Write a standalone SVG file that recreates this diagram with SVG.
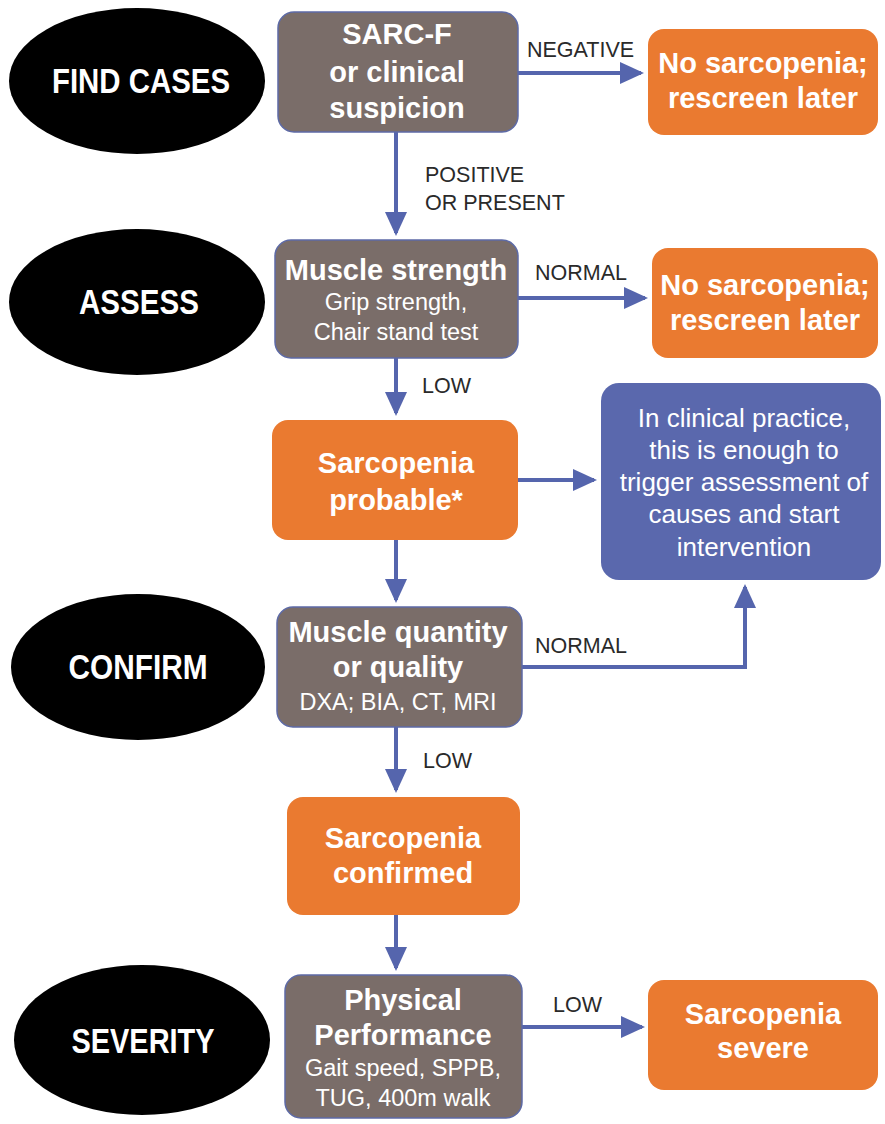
<svg xmlns="http://www.w3.org/2000/svg" width="885" height="1124" viewBox="0 0 885 1124">
<style>
.ell{fill:#000}
.gray{fill:#7a6d69;stroke:#5d6aa6;stroke-width:1.5}
.orange{fill:#ea7a30}
.blue{fill:#5a68ad}
.et{font-family:"Liberation Sans",Arial,sans-serif;font-weight:bold;font-size:35px;fill:#fff;text-anchor:middle}
.bt{font-family:"Liberation Sans",Arial,sans-serif;font-weight:bold;font-size:29px;fill:#fff;text-anchor:middle}
.st{font-family:"Liberation Sans",Arial,sans-serif;font-size:23.5px;fill:#fff;text-anchor:middle}
.ct{font-family:"Liberation Sans",Arial,sans-serif;font-size:26px;fill:#fff;text-anchor:middle}
.lbl{font-family:"Liberation Sans",Arial,sans-serif;font-size:21.5px;fill:#2a2a2a}
.conn{fill:none;stroke:#5565ad;stroke-width:4}
</style>
<defs>
<marker id="ah" viewBox="0 0 12 11" refX="10.5" refY="5.5" markerWidth="6" markerHeight="5.5" orient="auto" markerUnits="strokeWidth">
<path d="M0,0 L12,5.5 L0,11 z" fill="#5565ad"/>
</marker>
</defs>
<rect width="885" height="1124" fill="#fff"/>

<g id="connectors">
<path class="conn" d="M518,73 H641" marker-end="url(#ah)"/>
<path class="conn" d="M396,132 V233" marker-end="url(#ah)"/>
<path class="conn" d="M518,298 H645" marker-end="url(#ah)"/>
<path class="conn" d="M396,358 V413" marker-end="url(#ah)"/>
<path class="conn" d="M518,480 H594" marker-end="url(#ah)"/>
<path class="conn" d="M396,540 V600" marker-end="url(#ah)"/>
<path class="conn" d="M522,667 H745 V587" marker-end="url(#ah)"/>
<path class="conn" d="M396,727 V790" marker-end="url(#ah)"/>
<path class="conn" d="M396,915 V968" marker-end="url(#ah)"/>
<path class="conn" d="M522,1027 H642" marker-end="url(#ah)"/>
<text class="lbl" x="527" y="57">NEGATIVE</text>
<text class="lbl" x="425" y="182">POSITIVE</text>
<text class="lbl" x="425" y="210">OR PRESENT</text>
<text class="lbl" x="535" y="280">NORMAL</text>
<text class="lbl" x="422" y="393">LOW</text>
<text class="lbl" x="535" y="653">NORMAL</text>
<text class="lbl" x="423" y="768">LOW</text>
<text class="lbl" x="553" y="1012">LOW</text>
</g>

<g id="find-cases"><ellipse class="ell" cx="137" cy="81" rx="128" ry="73"/><text class="et" x="141" y="93" textLength="178" lengthAdjust="spacingAndGlyphs">FIND CASES</text></g>
<g id="assess"><ellipse class="ell" cx="137" cy="302" rx="128" ry="73"/><text class="et" x="139" y="314" textLength="120" lengthAdjust="spacingAndGlyphs">ASSESS</text></g>
<g id="confirm"><ellipse class="ell" cx="138" cy="667" rx="127" ry="73"/><text class="et" x="138" y="679" textLength="139" lengthAdjust="spacingAndGlyphs">CONFIRM</text></g>
<g id="severity"><ellipse class="ell" cx="142" cy="1040" rx="128" ry="75"/><text class="et" x="143" y="1053" textLength="143" lengthAdjust="spacingAndGlyphs">SEVERITY</text></g>

<g id="sarcf"><rect class="gray" x="278" y="12" width="240" height="120" rx="16"/>
<text class="bt" x="397" y="44">SARC-F</text>
<text class="bt" x="397" y="82">or clinical</text>
<text class="bt" x="397" y="118">suspicion</text></g>

<g id="nosarc1"><rect class="orange" x="648" y="29" width="230" height="106" rx="16"/>
<text class="bt" x="763" y="73">No sarcopenia;</text>
<text class="bt" x="763" y="108">rescreen later</text></g>

<g id="strength"><rect class="gray" x="275" y="240" width="243" height="118" rx="16"/>
<text class="bt" x="396" y="280">Muscle strength</text>
<text class="st" x="396" y="310">Grip strength,</text>
<text class="st" x="396" y="340">Chair stand test</text></g>

<g id="nosarc2"><rect class="orange" x="652" y="248" width="226" height="110" rx="16"/>
<text class="bt" x="765" y="295">No sarcopenia;</text>
<text class="bt" x="765" y="330">rescreen later</text></g>

<g id="probable"><rect class="orange" x="272" y="420" width="246" height="120" rx="16"/>
<text class="bt" x="396" y="473">Sarcopenia</text>
<text class="bt" x="396" y="510">probable*</text></g>

<g id="clinical"><rect class="blue" x="601" y="383" width="280" height="197" rx="18"/>
<text class="ct" x="744" y="427">In clinical practice,</text>
<text class="ct" x="744" y="459">this is enough to</text>
<text class="ct" x="744" y="491">trigger assessment of</text>
<text class="ct" x="744" y="523">causes and start</text>
<text class="ct" x="744" y="556">intervention</text></g>

<g id="quantity"><rect class="gray" x="277" y="607" width="245" height="120" rx="16"/>
<text class="bt" x="398" y="642">Muscle quantity</text>
<text class="bt" x="398" y="677">or quality</text>
<text class="st" x="398" y="710">DXA; BIA, CT, MRI</text></g>

<g id="confirmed"><rect class="orange" x="287" y="797" width="233" height="118" rx="16"/>
<text class="bt" x="403" y="848">Sarcopenia</text>
<text class="bt" x="403" y="883">confirmed</text></g>

<g id="performance"><rect class="gray" x="285" y="975" width="237" height="143" rx="16"/>
<text class="bt" x="403" y="1010">Physical</text>
<text class="bt" x="403" y="1045">Performance</text>
<text class="st" x="403" y="1076">Gait speed, SPPB,</text>
<text class="st" x="403" y="1106">TUG, 400m walk</text></g>

<g id="severe"><rect class="orange" x="648" y="980" width="230" height="110" rx="16"/>
<text class="bt" x="763" y="1024">Sarcopenia</text>
<text class="bt" x="763" y="1058">severe</text></g>
</svg>
